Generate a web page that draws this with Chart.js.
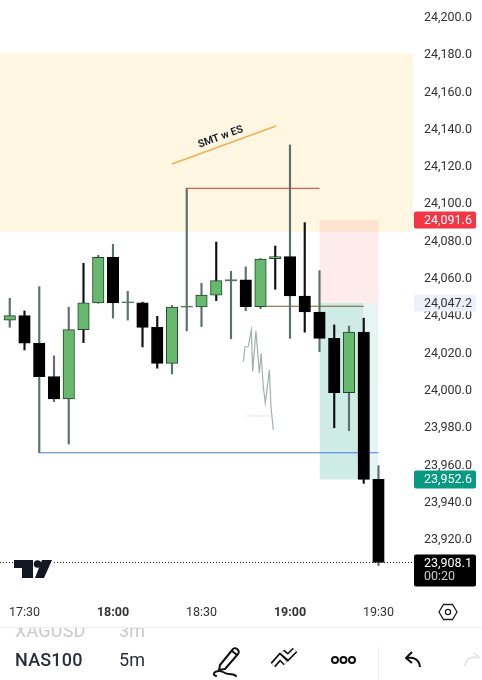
<!DOCTYPE html>
<html>
<head>
<meta charset="utf-8">
<title>NAS100 5m</title>
<script src="https://cdn.jsdelivr.net/npm/chart.js@4"></script>
<style>
  html, body { margin: 0; padding: 0; background: #fff; }
  #wrap { position: relative; width: 482px; height: 680px; overflow: hidden; font-family: Roboto, sans-serif; }
  canvas { position: absolute; left: 0; top: 0; }
  .abs { position: absolute; }
  .row { font-size: 18px; line-height: 20px; color: #2a2e39; letter-spacing: 0.2px; }
  .ghost { color: #c9c9c9; }
</style>
</head>
<body>
<div id="wrap">
  <canvas id="myChart" width="482" height="680"></canvas>

  <!-- logo -->
  <svg class="abs" style="left:14px;top:559px;background:#fff" width="39" height="20" viewBox="0 0 39 20">
    <path d="M0 1H19V19H8V9H0Z" fill="#131722"/>
    <circle cx="23.5" cy="5" r="3.8" fill="#131722"/>
    <path d="M28 1H38L30 19H21Z" fill="#131722"/>
  </svg>

  <!-- settings hexagon -->
  <svg class="abs" style="left:438px;top:603px" width="20" height="18" viewBox="0 0 20 18">
    <path d="M5.5 1.5H14.5L19 9L14.5 16.5H5.5L1 9Z" fill="none" stroke="#222" stroke-width="1.3"/>
    <circle cx="10" cy="9" r="2.6" fill="none" stroke="#222" stroke-width="1.3"/>
  </svg>

  <!-- bottom toolbar -->
  <div class="abs" style="left:0;top:627px;width:482px;height:1px;background:#eeeeee"></div>
  <div class="abs" style="left:0;top:628px;width:482px;height:9px;overflow:hidden">
    <div class="abs row ghost" style="left:15px;top:-7px">XAGUSD</div>
    <div class="abs row ghost" style="left:119px;top:-7px">3m</div>
  </div>
  <div class="abs row" style="left:15px;top:650px;font-weight:500">NAS100</div>
  <div class="abs row" style="left:119px;top:650px">5m</div>

  <svg class="abs" style="left:212px;top:645px" width="30" height="32" viewBox="0 0 30 32" fill="none" stroke="#111" stroke-width="2" stroke-linecap="round" stroke-linejoin="round">
    <path d="M8 20L21 4C22 3 24 3 25 4L26 5C27 6 27 8 26 9L13 24L7 25Z"/>
    <path d="M20 6L25 10"/>
    <path d="M4 31C0 30 2 26 7 26C12 26 12 29 17 29C20 29 23 30 24 31"/>
  </svg>
  <svg class="abs" style="left:269px;top:645px" width="30" height="24" viewBox="0 0 30 24" fill="none" stroke-linejoin="miter">
    <path d="M4 20L11 12L17 18M13 7L19 12L26 5" stroke="#111" stroke-width="6.5"/>
    <path d="M4 20L11 12L17 18M13 7L19 12L26 5" stroke="#fff" stroke-width="3.2"/>
  </svg>
  <svg class="abs" style="left:330px;top:654px" width="27" height="12" viewBox="0 0 27 12" fill="none" stroke="#111" stroke-width="2">
    <circle cx="5" cy="6" r="3"/><circle cx="13.5" cy="6" r="3"/><circle cx="22" cy="6" r="3"/>
  </svg>
  <div class="abs" style="left:378px;top:647px;width:1px;height:33px;background:#eeeeee"></div>
  <svg class="abs" style="left:403px;top:650px" width="20" height="20" viewBox="0 0 20 20" fill="none" stroke="#111" stroke-width="2" stroke-linejoin="round">
    <path d="M9 2L3 8L9 13"/><path d="M3 8C11 7 16 9 17 17"/>
  </svg>
  <svg class="abs" style="left:464px;top:650px" width="18" height="20" viewBox="0 0 18 20" fill="none" stroke="#e8e8e8" stroke-width="2">
    <path d="M1 16C2 8 7 6 15 8"/><path d="M10 3L16 8"/>
  </svg>
</div>

<script>
// candles, left to right, one every 5 minutes
const opens  = [24037.9, 24040.4, 24025.6, 24007.7, 23995.7, 24032.9, 24047.2, 24071.6, 24047.7, 24047.3, 24034.1, 24014.8, 24045.4, 24045.0, 24051.4, 24059.6, 24059.5, 24045.2, 24070.9, 24072.0, 24050.9, 24042.3, 24028.2, 23999.1, 24031.5, 23952.6];
const closes = [24040.4, 24025.6, 24007.7, 23995.7, 24032.9, 24047.2, 24071.6, 24047.2, 24047.3, 24034.1, 24014.8, 24044.9, 24045.0, 24051.4, 24059.1, 24059.0, 24045.2, 24070.7, 24072.0, 24050.9, 24042.3, 24028.2, 23999.1, 24031.5, 23952.6, 23908.1];
const highs  = [24049.7, 24042.9, 24055.9, 24018.8, 24044.9, 24068.4, 24072.7, 24078.6, 24053.4, 24047.6, 24040.0, 24045.9, 24108.6, 24057.7, 24079.8, 24064.1, 24066.5, 24071.0, 24077.7, 24131.8, 24090.2, 24064.5, 24035.4, 24034.8, 24039.0, 23960.0];
const lows   = [24034.1, 24022.0, 23966.9, 23994.3, 23971.6, 24025.9, 24047.0, 24039.1, 24038.0, 24023.6, 24012.2, 24009.1, 24032.2, 24034.5, 24048.4, 24028.0, 24043.0, 24044.1, 24054.5, 24028.2, 24031.5, 24021.1, 23980.3, 23978.7, 23950.5, 23906.5];

const timeLabels = { 1: "17:30", 7: "18:00", 13: "18:30", 19: "19:00", 25: "19:30" };
const boldTimes = ["18:00", "19:00"];
const priceTicks = [24200, 24180, 24160, 24140, 24120, 24100, 24080, 24060, 24040, 24020, 24000, 23980, 23960, 23940, 23920];

// drawings on the chart
const supplyZone = [24181, 24085.2];
const stopZone = [24091.6, 24047.2];
const targetZone = [24047.2, 23952.6];
const redLine = [[12, 24108.6], [21, 24108.6]];
const blueLine = [[2, 23966.9], [25, 23966.9]];
const brownLine = [[17.4, 24045.4], [24, 24045.4]];
const orangeLine = [[11, 24121.6], [18.05, 24142]];
const smudge = [[15.84, 24015.7], [15.95, 24023.7], [16.17, 24023.7], [16.38, 24032.7], [16.47, 24010.3], [16.69, 24032.3], [16.92, 24009.5], [17.04, 24020.2], [17.19, 24002.3], [17.33, 23993.4], [17.6, 24011.3], [17.71, 23991.6], [17.87, 23979.1]];
const smudgeRed = [[16, 23986.6], [17.75, 23986.6]];
const lastPrice = 23908.1;
const countdown = "00:20";

const xMin = -0.661, xMax = 27.34, yMin = 23888, yMax = 24209.5;
const greyWicks = [0, 2, 3, 4, 6, 7, 8, 11, 12, 13, 15, 16, 17, 19, 21, 23, 25];

const pts = list => list.map(p => ({ x: p[0], y: p[1] }));
const fmt = v => v.toLocaleString("en-US", { minimumFractionDigits: 1, maximumFractionDigits: 1 });

function lineSet(list, color, order, extra) {
  return Object.assign({ type: "line", data: pts(list), borderColor: color, borderWidth: 1.2, pointRadius: 0, order: order }, extra);
}
function zone(x0, x1, range, color, order) {
  return { type: "line", data: pts([[x0, range[0]], [x1, range[0]]]), borderWidth: 0, pointRadius: 0, backgroundColor: color, fill: { value: range[1] }, order: order };
}

// price tags on the right and the slanted note
const overlays = {
  id: "overlays",
  afterDraw(chart) {
    const c = chart.ctx, y = chart.scales.y, x = chart.scales.x;
    const tag = (v, bg, fg, h) => {
      const py = y.getPixelForValue(v);
      c.fillStyle = bg;
      c.beginPath();
      c.roundRect(414, py - h / 2, 62, h, 2);
      c.fill();
      c.fillStyle = fg;
      c.font = "12.5px Roboto";
      c.textAlign = "left";
      c.textBaseline = "middle";
      c.fillText(fmt(v), 424, py + 0.5);
    };
    tag(stopZone[0], "#F23645", "#fff", 17);
    tag(stopZone[1], "#EEF1FC", "#333", 17);
    tag(targetZone[1], "#089981", "#fff", 18);

    const py = y.getPixelForValue(lastPrice);
    c.fillStyle = "#000";
    c.beginPath();
    c.roundRect(414, py - 8, 62, 32, 2);
    c.fill();
    c.fillStyle = "#fff";
    c.fillText(fmt(lastPrice), 424, py + 1);
    c.fillStyle = "#ccc";
    c.fillText(countdown, 424, py + 14.5);

    c.save();
    c.translate(x.getPixelForValue(14.3), y.getPixelForValue(24136));
    c.rotate(-20 * Math.PI / 180);
    c.fillStyle = "#131722";
    c.font = "600 10.5px Roboto";
    c.textAlign = "center";
    c.fillText("SMT w ES", 0, 0);
    c.restore();
  }
};

const ctx = document.getElementById("myChart").getContext("2d");

new Chart(ctx, {
  data: {
    datasets: [
      zone(xMin, xMax, supplyZone, "#FFF7E1", 20),
      zone(21, 25, stopZone, "rgba(242,54,69,0.1)", 19),
      zone(21, 24, targetZone, "rgba(8,153,129,0.2)", 18),
      zone(24, 25, targetZone, "rgba(8,153,129,0.1)", 18),
      lineSet(smudgeRed, "#f8dede", 12, { borderWidth: 1 }),
      lineSet(smudge, "#a3b0ab", 11, { borderWidth: 1.2 }),
      lineSet(redLine, "#E0584F", 10),
      lineSet(blueLine, "#4A7BEA", 10),
      lineSet(brownLine, "#7A5A2C", 10),
      lineSet(orangeLine, "#F3AE55", 10, { borderWidth: 1.5 }),
      lineSet([[xMin, lastPrice], [xMax, lastPrice]], "#222", 10, { borderWidth: 1, borderDash: [1, 2] }),
      {
        type: "bar",
        data: opens.map((o, i) => ({ x: i, y: [lows[i], highs[i]] })),
        barThickness: 1.5,
        grouped: false,
        backgroundColor: c => greyWicks.includes(c.dataIndex) ? "#5E706A" : "#111",
        order: 5
      },
      {
        type: "bar",
        data: opens.map((o, i) => ({ x: i, y: [o, closes[i]] })),
        barThickness: 11.5,
        grouped: false,
        borderWidth: c => Math.abs(opens[c.dataIndex] - closes[c.dataIndex]) < 1 ? 0 : 1,
        borderSkipped: false,
        backgroundColor: c => {
          const i = c.dataIndex;
          if (Math.abs(opens[i] - closes[i]) < 1) return "#5F736C";
          return closes[i] > opens[i] ? "#66B96D" : "#000";
        },
        borderColor: c => closes[c.dataIndex] > opens[c.dataIndex] ? "#24452E" : "#000",
        order: 1
      }
    ]
  },
  options: {
    responsive: false,
    animation: false,
    layout: { padding: { bottom: 55 } },
    plugins: { legend: { display: false }, tooltip: { enabled: false } },
    scales: {
      x: {
        type: "linear",
        offset: false,
        min: xMin,
        max: xMax,
        grid: { display: false, tickLength: 0 },
        border: { display: false },
        afterBuildTicks: s => { s.ticks = Object.keys(timeLabels).map(k => ({ value: +k })); },
        afterFit: s => { s.height = 25; s.paddingLeft = 0; s.paddingRight = 0; },
        ticks: {
          autoSkip: false,
          maxRotation: 0,
          padding: 5,
          color: "#333",
          callback: v => timeLabels[v],
          font: c => ({ family: "Roboto", size: 12.5, weight: c.tick && boldTimes.includes(timeLabels[c.tick.value]) ? "bold" : "normal" })
        }
      },
      y: {
        position: "right",
        min: yMin,
        max: yMax,
        grid: { display: false, tickLength: 0 },
        border: { display: false },
        afterBuildTicks: s => { s.ticks = priceTicks.map(v => ({ value: v })); },
        afterFit: s => { s.width = 69; s.paddingTop = 0; s.paddingBottom = 0; },
        ticks: {
          padding: 11,
          color: "#333",
          font: { family: "Roboto", size: 12.5 },
          callback: v => fmt(v)
        }
      }
    }
  },
  plugins: [overlays]
});
</script>
</body>
</html>
